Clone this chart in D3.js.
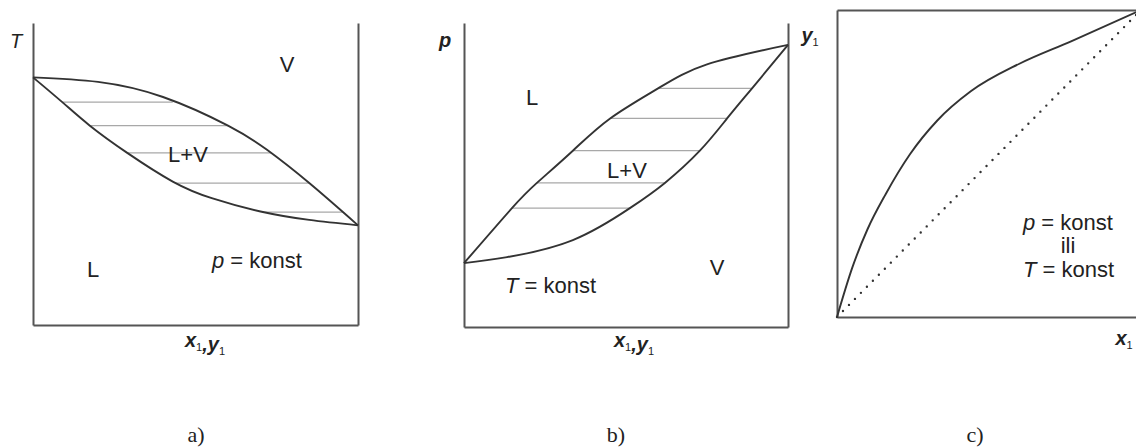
<!DOCTYPE html>
<html>
<head>
<meta charset="utf-8">
<script src="https://cdn.jsdelivr.net/npm/d3@7"></script>
<style>
  body { margin: 0; background: #fff; }
  text { font-family: "Liberation Sans", Arial, sans-serif; fill: #222; }
</style>
</head>
<body>
<svg id="chart" width="1136" height="448"></svg>
<script>
// a) T - x,y diagram at p = konst (T in arbitrary units 0..100)
var dewA_x = [0, 0.2, 0.4, 0.6, 0.72, 0.85, 1];
var dewA_T = [82, 80.5, 75.5, 66, 58, 47, 33];
var bubA_x = [0, 0.09, 0.175, 0.29, 0.43, 0.55, 0.7, 0.85, 1];
var bubA_T = [82, 73.8, 66, 57, 47.5, 42, 37.6, 34.8, 33];
var tieA_T = [73.8, 66, 57, 47, 37.4];
var tieA_xL = [0.09, 0.175, 0.29, 0.44, 0.705];
var tieA_xV = [0.43, 0.6, 0.732, 0.85, 0.953];

// b) p - x,y diagram at T = konst
var bubB_x = [0, 0.148, 0.225, 0.336, 0.451, 0.599, 0.75, 1];
var bubB_p = [21, 39.1, 47.4, 58, 68.6, 78.5, 86.4, 92.8];
var dewB_x = [0, 0.133, 0.336, 0.512, 0.62, 0.728, 0.812, 0.889, 1];
var dewB_p = [21, 23, 28.6, 39.1, 47.4, 58, 68.6, 78.5, 92.8];
var tieB_p = [39.1, 47.4, 58, 68.6, 78.5];
var tieB_xL = [0.148, 0.225, 0.336, 0.451, 0.599];
var tieB_xV = [0.512, 0.62, 0.728, 0.812, 0.889];

// c) y1 - x1 equilibrium curve
var eqC_x = [0, 0.05, 0.1, 0.16, 0.24, 0.33, 0.44, 0.6, 0.77, 1];
var eqC_y = [0, 0.16, 0.285, 0.40, 0.53, 0.64, 0.735, 0.825, 0.898, 1];
var diagC = [0, 1];

var panelNames = ["a)", "b)", "c)"];

var svg = d3.select("#chart");

var curve = function(x, y, xs, ys, c) {
  return d3.line()
    .curve(c || d3.curveNatural)
    .x(function(i) { return x(xs[i]); })
    .y(function(i) { return y(ys[i]); })(d3.range(xs.length));
};

var styleAxis = function(sel) {
  sel.select(".domain").attr("stroke", "#555").attr("stroke-width", 2);
};

var frame = function(g, x, y, sides) {
  var r = x.range(), t = y.range();
  if (sides.indexOf("l") >= 0)
    g.append("g").attr("transform", "translate(" + r[0] + ",0)")
      .call(d3.axisLeft(y).tickValues([]).tickSizeOuter(0)).call(styleAxis);
  if (sides.indexOf("r") >= 0)
    g.append("g").attr("transform", "translate(" + r[1] + ",0)")
      .call(d3.axisRight(y).tickValues([]).tickSizeOuter(0)).call(styleAxis);
  if (sides.indexOf("b") >= 0)
    g.append("g").attr("transform", "translate(0," + t[0] + ")")
      .call(d3.axisBottom(x).tickValues([]).tickSizeOuter(0)).call(styleAxis);
  if (sides.indexOf("t") >= 0)
    g.append("g").attr("transform", "translate(0," + t[1] + ")")
      .call(d3.axisTop(x).tickValues([]).tickSizeOuter(0)).call(styleAxis);
};

var ties = function(g, x, y, lev, xl, xv) {
  g.selectAll("line.tie")
    .data(d3.range(lev.length))
    .join("line")
    .attr("class", "tie")
    .attr("x1", function(i) { return x(xl[i]); })
    .attr("x2", function(i) { return x(xv[i]); })
    .attr("y1", function(i) { return y(lev[i]); })
    .attr("y2", function(i) { return y(lev[i]); })
    .attr("stroke", "#a8a8a8")
    .attr("stroke-width", 1.2);
};

var path = function(g, d) {
  g.append("path").attr("d", d)
    .attr("fill", "none").attr("stroke", "#333").attr("stroke-width", 1.9);
};

var label = function(g, x, y, txt, anchor) {
  return g.append("text").attr("x", x).attr("y", y)
    .attr("font-size", 22).attr("text-anchor", anchor || "start").text(txt);
};

// label with italic variable and upright subscript "1"
var subLabel = function(g, x, y, vars, anchor) {
  var t = g.append("text").attr("x", x).attr("y", y)
    .attr("font-size", 20).attr("font-weight", "bold")
    .attr("text-anchor", anchor || "start");
  vars.forEach(function(v, i) {
    if (i > 0) t.append("tspan").attr("font-style", "italic").text(",");
    t.append("tspan").attr("font-style", "italic").text(v);
    t.append("tspan").attr("font-size", 11).attr("font-weight", "normal")
      .attr("dy", 4).text("1");
    t.append("tspan").attr("dy", -4).text("");
  });
  return t;
};

var varText = function(g, x, y, v, rest, anchor) {
  var t = g.append("text").attr("x", x).attr("y", y)
    .attr("font-size", 22).attr("text-anchor", anchor || "start");
  t.append("tspan").attr("font-style", "italic").text(v);
  if (rest) t.append("tspan").text(rest);
  return t;
};

// ---- panel a ----
var xA = d3.scaleLinear().domain([0, 1]).range([33, 358]);
var yA = d3.scaleLinear().domain([0, 100]).range([325, 23]);
var gA = svg.append("g");
frame(gA, xA, yA, "lrb");
ties(gA, xA, yA, tieA_T, tieA_xL, tieA_xV);
path(gA, curve(xA, yA, dewA_x, dewA_T));
path(gA, curve(xA, yA, bubA_x, bubA_T));
varText(gA, 10, 48, "T").attr("font-size", 20);
label(gA, 287, 72, "V", "middle");
label(gA, 188, 162, "L+V", "middle");
label(gA, 93, 277, "L", "middle");
varText(gA, 212, 268, "p", " = konst");
subLabel(gA, 205, 347, ["x", "y"], "middle");

// ---- panel b ----
var xB = d3.scaleLinear().domain([0, 1]).range([464, 788]);
var yB = d3.scaleLinear().domain([0, 100]).range([327, 23]);
var gB = svg.append("g");
frame(gB, xB, yB, "lrb");
ties(gB, xB, yB, tieB_p, tieB_xL, tieB_xV);
path(gB, curve(xB, yB, bubB_x, bubB_p));
path(gB, curve(xB, yB, dewB_x, dewB_p));
varText(gB, 439, 47, "p").attr("font-size", 20).attr("font-weight", "bold");
label(gB, 532, 105, "L", "middle");
label(gB, 627, 178, "L+V", "middle");
label(gB, 717, 275, "V", "middle");
varText(gB, 505, 293, "T", " = konst");
subLabel(gB, 634, 347, ["x", "y"], "middle");

// ---- panel c ----
var xC = d3.scaleLinear().domain([0, 1]).range([837, 1141]);
var yC = d3.scaleLinear().domain([0, 1]).range([317, 10]);
var gC = svg.append("g");
frame(gC, xC, yC, "lbt");
gC.append("path")
  .attr("d", d3.line().x(function(v) { return xC(v); }).y(function(v) { return yC(v); })(diagC))
  .attr("fill", "none").attr("stroke", "#333").attr("stroke-width", 2.4)
  .attr("stroke-linecap", "round").attr("stroke-dasharray", "0,8.5");
path(gC, curve(xC, yC, eqC_x, eqC_y, d3.curveMonotoneX));
varText(gC, 1023, 230, "p", " = konst");
label(gC, 1068, 253, "ili", "middle");
varText(gC, 1023, 277, "T", " = konst");
subLabel(gC, 810, 42, ["y"], "middle");
subLabel(gC, 1124, 345, ["x"], "middle");

// panel captions
var capX = d3.scaleOrdinal().domain(panelNames).range([196, 616, 975]);
svg.selectAll("text.cap")
  .data(panelNames)
  .join("text")
  .attr("class", "cap")
  .attr("x", function(d) { return capX(d); })
  .attr("y", 442)
  .attr("text-anchor", "middle")
  .style("font-family", "'Liberation Serif', 'Times New Roman', serif")
  .attr("font-size", 22)
  .text(function(d) { return d; });
</script>
</body>
</html>
